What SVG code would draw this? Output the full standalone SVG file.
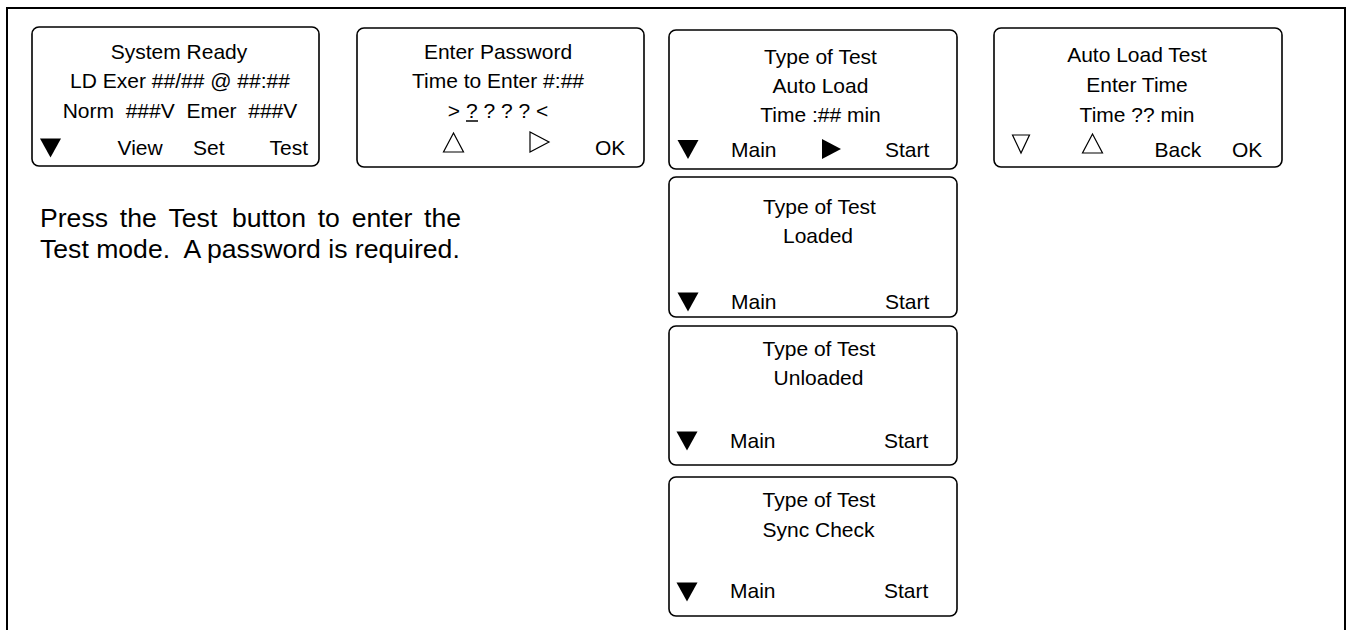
<svg xmlns="http://www.w3.org/2000/svg" width="1349" height="630" viewBox="0 0 1349 630">
<style>
.frame{fill:none;stroke:#000;stroke-width:2}
.box{fill:#fff;stroke:#000;stroke-width:1.6}
text{font-family:"Liberation Sans",Arial,sans-serif;font-size:21px;fill:#000}
.c{text-anchor:middle}
.p{font-size:26.6px}
.fill{fill:#000;stroke:none}
.open{fill:none;stroke:#000;stroke-width:1.2;stroke-linejoin:miter}
</style>
<defs>
<polygon id="dn" class="fill" points="0,0 21,0 10.5,19"/>
<polygon id="rt" class="fill" points="0,0 0,20 19,10"/>
<polygon id="upo" class="open" points="0,19 20,19 10,0"/>
<polygon id="dno" class="open" points="0,0 17,0 8.5,18"/>
<polygon id="rto" class="open" points="0,0 0,20 19,10"/>
</defs>
<rect class="frame" x="7" y="8" width="1338" height="640"/>

<g id="system-ready">
<rect class="box" x="32" y="27" width="287" height="139" rx="7"/>
<text class="c" x="179" y="59">System Ready</text>
<text class="c" x="180" y="88">LD Exer ##/## @ ##:##</text>
<text class="c" x="180" y="118" xml:space="preserve">Norm  ###V  Emer  ###V</text>
<use href="#dn" x="40" y="138.5"/>
<text x="117.5" y="155">View</text>
<text x="193" y="155">Set</text>
<text x="269.5" y="155">Test</text>
</g>

<g id="enter-password">
<rect class="box" x="357" y="28" width="287" height="139" rx="7"/>
<text class="c" x="498" y="59">Enter Password</text>
<text class="c" x="498" y="88">Time to Enter #:##</text>
<text class="c" x="498" y="118">&gt; ? ? ? ? &lt;</text>
<line x1="466" y1="121" x2="478" y2="121" stroke="#000" stroke-width="1.5"/>
<use href="#upo" x="443.5" y="133"/>
<use href="#rto" x="530" y="132"/>
<text x="595" y="155">OK</text>
</g>

<g id="auto-load">
<rect class="box" x="669" y="30" width="288" height="139" rx="7"/>
<text class="c" x="820.5" y="63.5">Type of Test</text>
<text class="c" x="820.5" y="93">Auto Load</text>
<text class="c" x="820.5" y="122">Time :## min</text>
<use href="#dn" x="677.5" y="140"/>
<text x="731" y="157">Main</text>
<use href="#rt" x="822" y="139"/>
<text x="885" y="157">Start</text>
</g>

<g id="auto-load-test">
<rect class="box" x="994" y="28" width="288" height="139" rx="7"/>
<text class="c" x="1137" y="62">Auto Load Test</text>
<text class="c" x="1137" y="92">Enter Time</text>
<text class="c" x="1137" y="122">Time ?? min</text>
<use href="#dno" x="1012.5" y="135"/>
<use href="#upo" x="1082.5" y="134"/>
<text x="1154.5" y="157">Back</text>
<text x="1232" y="157">OK</text>
</g>

<g id="loaded">
<rect class="box" x="669" y="177" width="288" height="140" rx="7"/>
<text class="c" x="819.5" y="214">Type of Test</text>
<text class="c" x="818" y="243">Loaded</text>
<use href="#dn" x="677.5" y="292.5"/>
<text x="731" y="309">Main</text>
<text x="885" y="309">Start</text>
</g>

<g id="unloaded">
<rect class="box" x="669" y="326" width="288" height="139" rx="7"/>
<text class="c" x="819" y="356">Type of Test</text>
<text class="c" x="818.5" y="385">Unloaded</text>
<use href="#dn" x="676.5" y="431.5"/>
<text x="730" y="448">Main</text>
<text x="884" y="448">Start</text>
</g>

<g id="sync-check">
<rect class="box" x="669" y="477" width="288" height="139" rx="7"/>
<text class="c" x="819" y="507">Type of Test</text>
<text class="c" x="818.5" y="537">Sync Check</text>
<use href="#dn" x="676.5" y="582.5"/>
<text x="730" y="598">Main</text>
<text x="884" y="598">Start</text>
</g>

<g id="note">
<text class="p" y="227"><tspan x="40">Press</tspan><tspan x="119.8">the</tspan><tspan x="168.5">Test</tspan><tspan x="232">button</tspan><tspan x="317.7">to</tspan><tspan x="351.7">enter</tspan><tspan x="424">the</tspan></text>
<text class="p" x="40" y="258" xml:space="preserve">Test mode.  A password is required.</text>
</g>

<g id="connectors"></g>
</svg>
